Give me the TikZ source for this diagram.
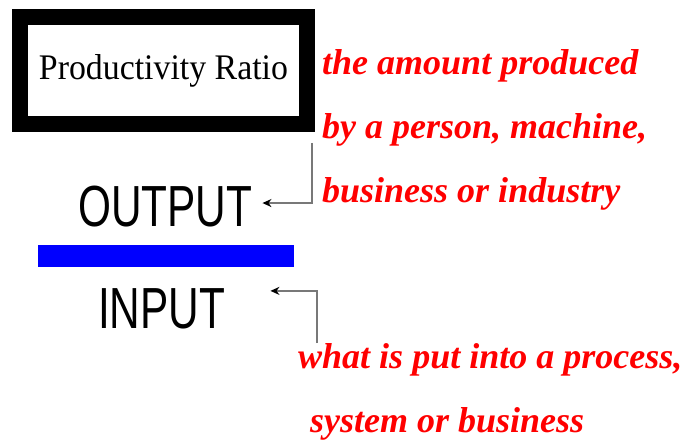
\documentclass[tikz,border=0pt]{standalone}
\usepackage{fontspec}
\setmainfont{Liberation Serif}
\newfontfamily\titlefont[FakeStretch=0.94]{Liberation Serif}
\newfontfamily\narrowsans[FakeStretch=0.73]{Liberation Sans}
\newfontfamily\notefont{Liberation Serif Bold Italic}
\usetikzlibrary{arrows.meta}
\definecolor{pointergray}{RGB}{120,120,120}
\tikzstyle{ratiobox} = [draw=black, fill=white, line width=16pt, rectangle, minimum width=287pt, minimum height=107pt, inner sep=0pt, font=\titlefont\fontsize{36}{40}\selectfont]
\tikzstyle{bigword} = [inner sep=0pt, anchor=base west, font=\narrowsans\fontsize{58}{60}\selectfont]
\tikzstyle{note} = [inner sep=0pt, anchor=north west, align=left, text=red, font=\notefont\fontsize{36}{64}\selectfont]
\tikzstyle{pointer} = [draw=pointergray, line width=1.5pt, -{Stealth[length=9pt,width=8pt,black]}]

\begin{document}
\begin{tikzpicture}[x=1pt,y=-1pt]
\useasboundingbox (0,0) rectangle (687,443);
\node [ratiobox] (ratio) at (163.5,70.5) {Productivity Ratio};
\node [bigword] (output) at (78,227) {OUTPUT};
\node [bigword] (input) at (98,328) {INPUT};
\fill [blue] (38,245) rectangle (294,267);
\node [note] (made) at (322,49) {the amount produced\\by a person, machine,\\business or industry};
\node [note] (putin) at (298,343) {what is put into a process,\\\hspace*{12pt}system or business};
\coordinate (madetail) at (312,143);
\coordinate (putintail) at (317,343);
\draw [pointer] (madetail) |- ([xshift=10pt,yshift=4pt]output.east);
\draw [pointer] (putintail) |- ([xshift=45pt,yshift=-3pt]input.north east);
\end{tikzpicture}
\end{document}
